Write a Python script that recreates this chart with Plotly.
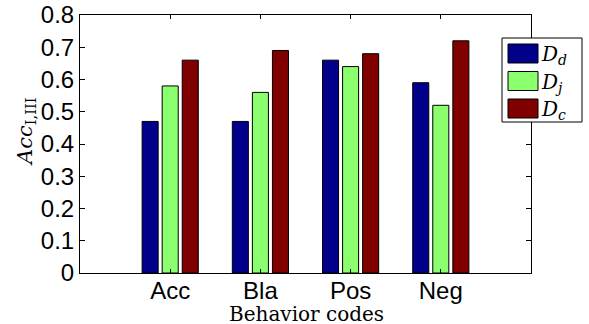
import plotly.graph_objects as go

categories = ["Acc", "Bla", "Pos", "Neg"]
positions = [1, 2, 3, 4]
series_names = ["<i>D</i><sub><i>d</i></sub>", "<i>D</i><sub><i>j</i></sub>", "<i>D</i><sub><i>c</i></sub>"]
D_d = [0.47, 0.47, 0.66, 0.59]
D_j = [0.58, 0.56, 0.64, 0.52]
D_c = [0.66, 0.69, 0.68, 0.72]
colors = ["#00008B", "#8CFF6E", "#800000"]
y_ticks = [0, 0.1, 0.2, 0.3, 0.4, 0.5, 0.6, 0.7, 0.8]

fig = go.Figure()
for name, vals, col in zip(series_names, [D_d, D_j, D_c], colors):
    fig.add_trace(go.Bar(x=positions, y=vals, name=name, showlegend=False,
                         marker=dict(color=col, line=dict(color="black", width=1))))

W, H = 589, 324
px_left, px_right, px_top, px_bottom = 80, 531, 15, 273
L, T = px_left, px_top
pw = px_right - px_left
ph = px_bottom - px_top
R = W - L - pw
B = H - T - ph

def px_to_paper_x(x):
    return (x - px_left) / pw

def px_to_paper_y(y):
    return (px_bottom - y) / ph

# legend box drawn with layout shapes (swatches sized like the reference)
shapes = [dict(type="rect", xref="paper", yref="paper",
               x0=px_to_paper_x(502), x1=px_to_paper_x(582),
               y0=px_to_paper_y(122), y1=px_to_paper_y(38),
               fillcolor="white", line=dict(color="black", width=1), layer="above")]
annotations = []
row_top = [44, 71.5, 99]
for name, col, top in zip(series_names, colors, row_top):
    shapes.append(dict(type="rect", xref="paper", yref="paper",
                       x0=px_to_paper_x(508), x1=px_to_paper_x(538),
                       y0=px_to_paper_y(top + 19), y1=px_to_paper_y(top),
                       fillcolor=col, line=dict(color="black", width=1), layer="above"))
    annotations.append(dict(text=name, xref="paper", yref="paper",
                            x=px_to_paper_x(539), y=px_to_paper_y(top + 11),
                            xanchor="left", yanchor="middle", showarrow=False,
                            font=dict(family="DejaVu Serif", size=20, color="black")))

annotations += [
    dict(text="Behavior codes", xref="paper", yref="paper",
         x=px_to_paper_x(306), y=px_to_paper_y(314), xanchor="center", yanchor="middle",
         showarrow=False, font=dict(family="DejaVu Serif", size=20, color="black")),
    dict(text="<i>Acc</i><sub>I,III</sub>", xref="paper", yref="paper",
         x=px_to_paper_x(26), y=px_to_paper_y(132), xanchor="center", yanchor="middle",
         textangle=-90, showarrow=False, font=dict(family="DejaVu Serif", size=21, color="black")),
]

fig.update_layout(
    width=W, height=H,
    margin=dict(l=L, r=R, t=T, b=B, autoexpand=False),
    paper_bgcolor="white", plot_bgcolor="white",
    barmode="group", bargap=0.333, bargroupgap=0.2,
    showlegend=False,
    shapes=shapes, annotations=annotations,
    font=dict(family="Liberation Sans, Arial", color="black"),
)
fig.update_xaxes(
    range=[0, 5], tickvals=positions, ticktext=categories,
    ticks="inside", ticklen=4, tickcolor="black",
    showline=True, linecolor="black", linewidth=1, mirror="ticks",
    showgrid=False, zeroline=False, ticklabelstandoff=-4,
    tickfont=dict(family="Liberation Sans, Arial", size=24, color="black"),
)
fig.update_yaxes(
    range=[0, 0.8], tickvals=y_ticks, ticktext=[("%g" % v) for v in y_ticks],
    ticks="inside", ticklen=5, tickcolor="black",
    showline=True, linecolor="black", linewidth=1, mirror="ticks",
    showgrid=False, zeroline=False, ticklabeloverflow="allow",
    tickfont=dict(family="Liberation Sans, Arial", size=24, color="black"),
)
fig.write_html("out.html", config={"displayModeBar": False},
               post_script="document.body.style.margin='0';")
